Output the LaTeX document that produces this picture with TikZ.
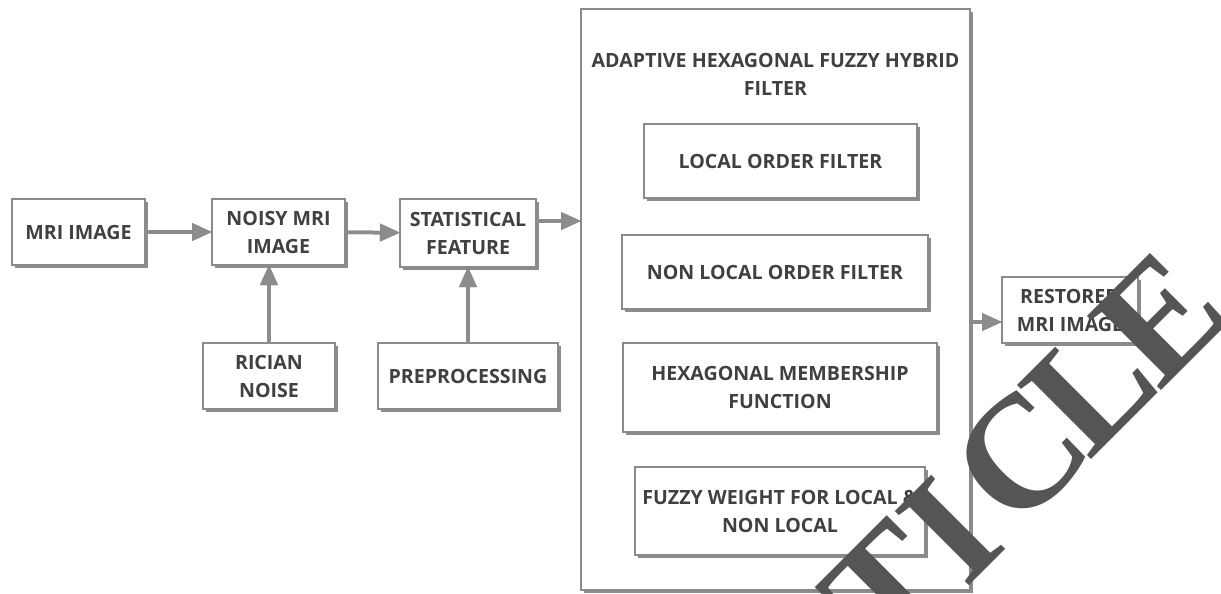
\documentclass[tikz,border=0pt]{standalone}
\usepackage{fontspec}
\setmainfont{Open Sans}
\newfontfamily\wmfont{Liberation Serif}
\usetikzlibrary{arrows.meta,shadows}
\definecolor{txtgray}{HTML}{404040}
\definecolor{bordergray}{HTML}{8A8A8A}
\definecolor{arrgray}{HTML}{8C8C8C}
\definecolor{wmgray}{HTML}{555555}
\tikzset{
  box/.style={draw=bordergray, line width=1.4pt, fill=white, inner sep=0pt, outer sep=0pt,
    align=center, text=txtgray, font=\bfseries\fontsize{19.6}{28}\selectfont,
    drop shadow={shadow xshift=3pt, shadow yshift=-3pt, fill=black, opacity=0.45}},
  title/.style={align=center, text=txtgray, font=\bfseries\fontsize{19.6}{28}\selectfont, inner sep=0pt},
  arr/.style={draw=arrgray, line width=3.5pt, -{Triangle[length=20pt,width=17pt,fill=arrgray]}},
  arrshadow/.style={draw=black!65, line width=3.5pt, -{Triangle[length=20pt,width=17pt,fill=black!65]}, opacity=0.8},
  wm/.style={text=wmgray, font=\wmfont\bfseries\fontsize{160}{160}\selectfont, inner sep=0pt, rotate=45}
}
\begin{document}
\begin{tikzpicture}[x=1pt, y=-1pt]
\useasboundingbox (0,0) rectangle (1221,594);
% big box
\node[box, minimum width=389pt, minimum height=581pt] (big) at (775.5,299.5) {};
\node[title] (bigtitle) at (775.5,74) {ADAPTIVE HEXAGONAL FUZZY HYBRID\\FILTER};
% inner boxes
\node[box, minimum width=273pt, minimum height=74pt] (lof) at (780.5,161) {LOCAL ORDER FILTER};
\node[box, minimum width=306pt, minimum height=74pt] (nlof) at (775,272) {NON LOCAL ORDER FILTER};
\node[box, minimum width=314pt, minimum height=89pt] (hmf) at (780,387.5) {HEXAGONAL MEMBERSHIP\\FUNCTION};
\node[box, minimum width=290pt, minimum height=88pt] (fw) at (780,511) {FUZZY WEIGHT FOR LOCAL \&\\NON LOCAL};
% left boxes
\node[box, minimum width=133pt, minimum height=66pt] (mri) at (78.5,232) {MRI IMAGE};
\node[box, minimum width=133pt, minimum height=66pt] (noisy) at (278.5,232) {NOISY MRI\\IMAGE};
\node[box, minimum width=136pt, minimum height=68pt] (stat) at (468,233) {STATISTICAL\\FEATURE};
\node[box, minimum width=132pt, minimum height=66pt] (rician) at (269,376) {RICIAN\\NOISE};
\node[box, minimum width=180pt, minimum height=66pt] (prep) at (468,376) {PREPROCESSING};
\node[box, minimum width=136pt, minimum height=66pt] (rest) at (1070,310) {RESTORED\\MRI IMAGE};
% arrow anchor points
\coordinate (s1) at ([yshift=12pt]stat.east);
\coordinate (e1) at ([yshift=12pt]stat.east -| big.west);
\coordinate (e2) at ([yshift=-12pt]rest.west);
\coordinate (s2) at ([yshift=-12pt]rest.west -| big.east);
% arrow shadows
\begin{scope}[shift={(1.5,1.8)}]
\draw[arrshadow] (mri) -- (noisy);
\draw[arrshadow] (noisy) -- (stat);
\draw[arrshadow] (s1) -- (e1);
\draw[arrshadow] (rician.north) -- (rician.north |- noisy.south);
\draw[arrshadow] (prep) -- (stat);
\draw[arrshadow] (s2) -- (e2);
\end{scope}
% arrows
\draw[arr] (mri) -- (noisy);
\draw[arr] (noisy) -- (stat);
\draw[arr] (s1) -- (e1);
\draw[arr] (rician.north) -- (rician.north |- noisy.south);
\draw[arr] (prep) -- (stat);
\draw[arr] (s2) -- (e2);
% watermark
\begin{scope}
\clip (0,0) rectangle (1221,594);
\node[wm] (wT) at (888,589) {T};
\node[wm] (wI) at (950,530) {I};
\node[wm] (wC) at (1020,456) {C};
\node[wm] (wL) at (1090,387) {L};
\node[wm] (wE) at (1160,318) {E};
\end{scope}
\end{tikzpicture}
\end{document}
